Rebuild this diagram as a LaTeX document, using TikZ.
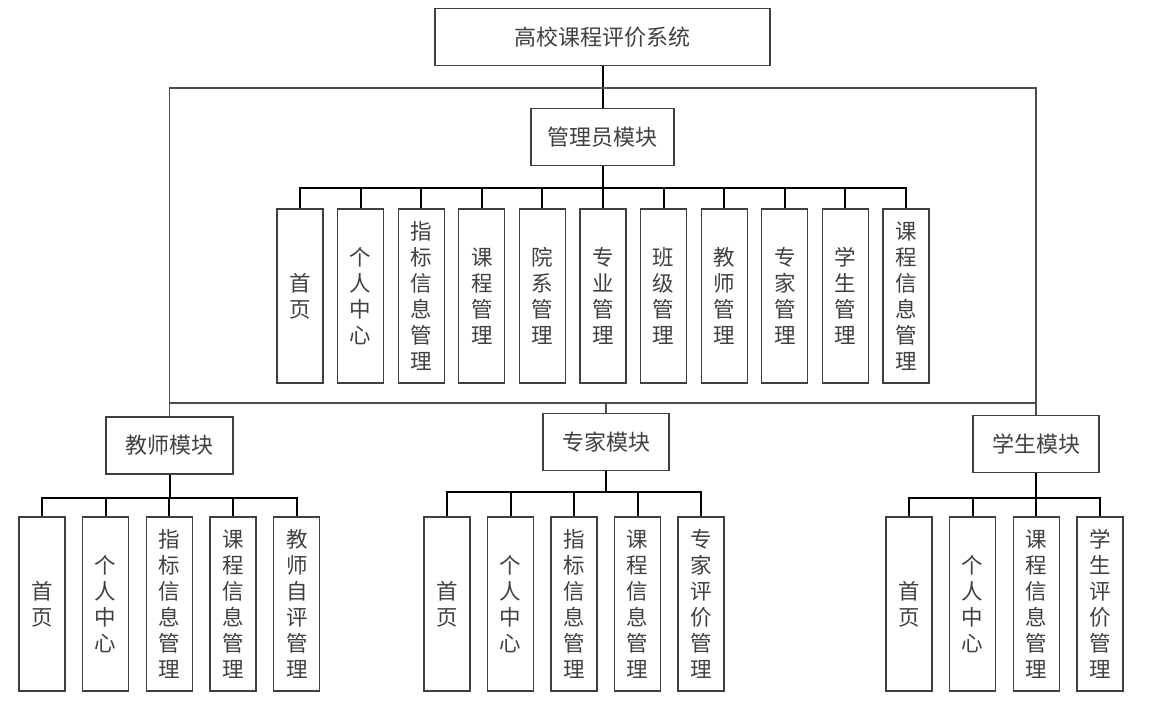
\documentclass[tikz,border=0pt]{standalone}
\usepackage{fontspec}
\setmainfont{Noto Sans CJK SC}
\tikzset{
  modbox/.style={draw=black!75,line width=1.3pt,text=black!75,font=\fontsize{22}{26}\selectfont,minimum height=57pt,inner sep=0pt},
  leafbox/.style={draw=black!75,line width=1.3pt,text=black!75,font=\fontsize{21.5}{26}\selectfont,minimum width=46pt,minimum height=174pt,inner sep=0pt,align=center},
  bus/.style={line width=2pt,black},
  frameline/.style={line width=1.2pt,black!70}
}
\begin{document}
\begin{tikzpicture}[x=1pt,y=-1pt]
	\useasboundingbox (0,0) rectangle (1167,716);
	% main boxes
	\node[modbox,minimum width=335pt] (top) at (602.5,37) {高校课程评价系统};
	\node[modbox,minimum width=143pt] (adm) at (602.5,137) {管理员模块};
	\node[modbox,minimum width=127pt] (tea) at (169.5,445.5) {教师模块};
	\node[modbox,minimum width=126pt] (exp) at (606,442) {专家模块};
	\node[modbox,minimum width=126pt] (stu) at (1036,444) {学生模块};
	\coordinate (ftop) at (602.5,88);
	\coordinate (fbot) at (606,403);
	% frame
	\draw[bus] (top.south) -- (adm.north);
	\draw[frameline] (tea.north) -- (tea.north |- ftop) -- (stu.north |- ftop) -- (stu.north);
	\draw[frameline] (tea.north |- fbot) -- (stu.north |- fbot);
	\draw[frameline] (exp.north) -- (fbot);
	% admin
	\foreach \t [count=\i] in {{首\\页},{个\\人\\中\\心},{指\\标\\信\\息\\管\\理},{课\\程\\管\\理},{院\\系\\管\\理},{专\\业\\管\\理},{班\\级\\管\\理},{教\\师\\管\\理},{专\\家\\管\\理},{学\\生\\管\\理},{课\\程\\信\\息\\管\\理}}{
		\node[leafbox] (a\i) at ({300+60.6*(\i-1)},296) {\t};
		\draw[bus] (adm.south) -- ++(0,22) -| (a\i.north);
	}
	% teacher
	\foreach \t [count=\i] in {{首\\页},{个\\人\\中\\心},{指\\标\\信\\息\\管\\理},{课\\程\\信\\息\\管\\理},{教\\师\\自\\评\\管\\理}}{
		\node[leafbox] (t\i) at ({42+63.7*(\i-1)},604) {\t};
		\draw[bus] (tea.south) -- ++(0,23) -| (t\i.north);
	}
	% expert
	\foreach \t [count=\i] in {{首\\页},{个\\人\\中\\心},{指\\标\\信\\息\\管\\理},{课\\程\\信\\息\\管\\理},{专\\家\\评\\价\\管\\理}}{
		\node[leafbox] (e\i) at ({447+63.5*(\i-1)},604) {\t};
		\draw[bus] (exp.south) -- ++(0,21) -| (e\i.north);
	}
	% student
	\foreach \t [count=\i] in {{首\\页},{个\\人\\中\\心},{课\\程\\信\\息\\管\\理},{学\\生\\评\\价\\管\\理}}{
		\node[leafbox] (s\i) at ({909+63.7*(\i-1)},604) {\t};
		\draw[bus] (stu.south) -- ++(0,25) -| (s\i.north);
	}
\end{tikzpicture}
\end{document}
